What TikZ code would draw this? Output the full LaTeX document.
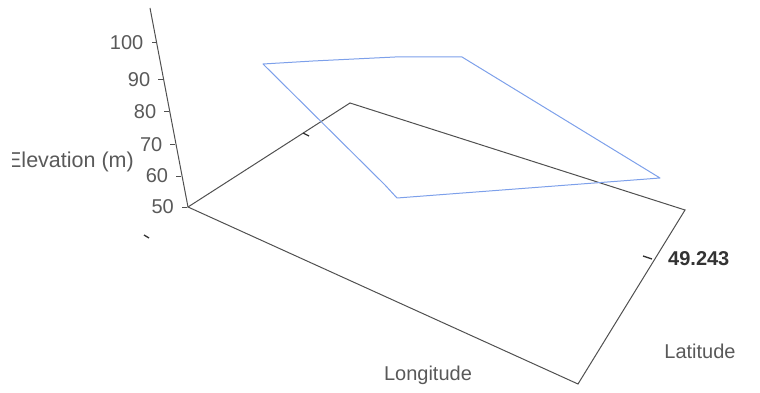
\documentclass[tikz,border=0pt]{standalone}
\usepackage{fontspec}
\setmainfont{Liberation Sans}
\usepackage{tikz}
\usetikzlibrary{
	positioning
}

\definecolor{axisgray}{HTML}{505050}
\definecolor{labelgray}{HTML}{595959}
\definecolor{surfblue}{HTML}{7DA0EA}

\tikzset{
	axisline/.style={draw=axisgray,line width=1pt},
	surface/.style={draw=surfblue,line width=1pt,line join=round},
	tickmark/.style={draw=black!80,line width=1.3pt},
	lbl/.style={text=labelgray,font=\fontsize{20}{24}\selectfont,inner sep=0pt},
	boldlbl/.style={text=black!80,font=\bfseries\fontsize{20}{24}\selectfont,inner sep=0pt}
}

\begin{document}
\begin{tikzpicture}[x=1pt,y=-1pt]
		\useasboundingbox (0,0) rectangle (760,393);

		% base frame
		\coordinate (left)  at (188,207);
		\coordinate (back)  at (350,103);
		\coordinate (right) at (685,210);
		\coordinate (front) at (578,384);
		\coordinate (ztop)  at (150,8);

		\draw[axisline] (left) -- (back) -- (right) -- (front) -- cycle;
		\draw[axisline] (ztop) -- (left);

		% elevation ticks
		\foreach \val/\yy in {100/43,90/80,80/112,70/145,60/176,50/207}{
			\coordinate (t\val) at ({150+0.186*(\yy-8)},\yy);
			\draw[axisline] (t\val) -- ++(-5,0);
			\node[lbl,anchor=east] (l\val) at ([xshift=-13pt]t\val) {\val};
		}

		% surface
		\draw[surface]
			(263,64) coordinate (s1) -- (313,61) -- (395,57) -- (462,57) coordinate (s2)
			-- (660,178) coordinate (s3) -- (397,198) coordinate (s4)
			-- (385,185) -- cycle;

		% small ticks
		\coordinate (k1) at (144,235);
		\coordinate (k2) at (303,133);
		\coordinate (k3) at (643,256);
		\draw[tickmark] (k1) -- ++(5,3);
		\draw[tickmark] (k2) -- ++(6,3);
		\draw[tickmark] (k3) -- ++(9,3);

		% labels
		\begin{scope}
			\clip (12.5,140) rectangle (140,185);
			\node [lbl,anchor=east,font=\fontsize{21.5}{26}\selectfont] (elev) at (134,162) {Elevation (m)};
		\end{scope}
		\draw
			node [boldlbl,anchor=west] (lat0) at (668,259) {49.243}
			node [lbl]              (lat)  at (700,351) {Latitude}
			node [lbl]              (lon)  at (428,375) {Longitude}
		;
\end{tikzpicture}
\end{document}
